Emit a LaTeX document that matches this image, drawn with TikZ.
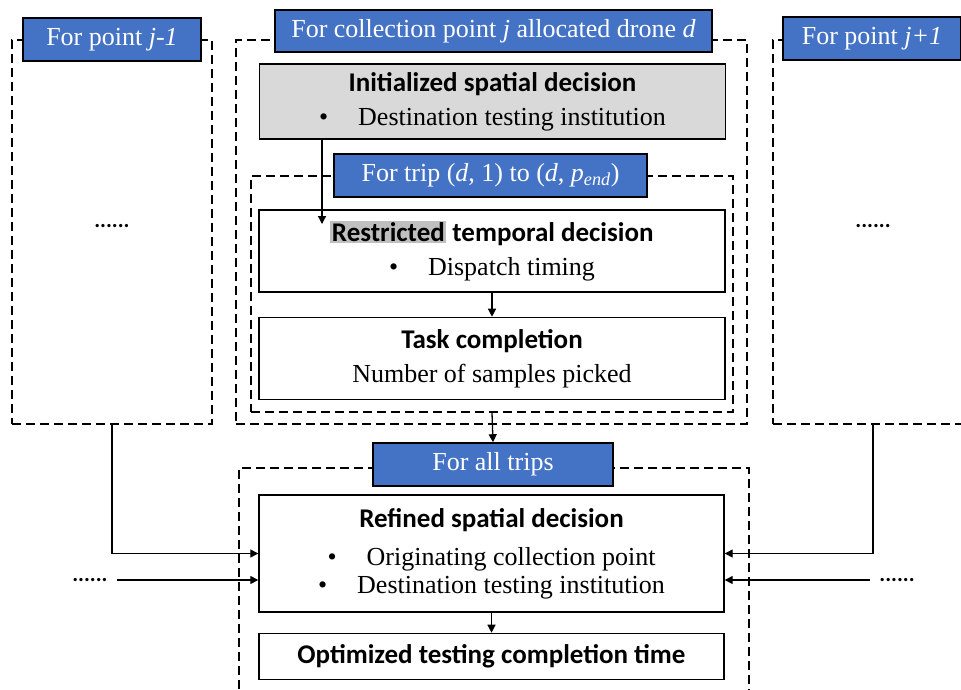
\documentclass[tikz,border=0pt]{standalone}
\usepackage{fontspec}
\setmainfont{Liberation Serif}
\newfontfamily\carlito{Carlito}
\usepackage{tikz}
\usetikzlibrary{arrows.meta,positioning}
\definecolor{titleblue}{HTML}{4472C4}
\definecolor{initgray}{HTML}{D9D9D9}
\definecolor{markgray}{HTML}{BFBFBF}
\newcommand{\hd}{\carlito\bfseries\fontsize{27}{32}\selectfont}

\begin{document}
\begin{tikzpicture}[
  x=1pt, y=-1pt,
  box/.style={draw, line width=1.4pt, minimum width=466pt, align=center, inner sep=0pt,
    font=\fontsize{26}{34}\selectfont},
  title/.style={draw, fill=titleblue, text=white, line width=1.6pt, minimum height=43pt,
    inner sep=0pt, font=\fontsize{26}{28}\selectfont},
  frame/.style={draw, dash pattern=on 9pt off 5pt, line width=1.5pt, inner sep=0pt},
  dots/.style={font=\carlito\bfseries\fontsize{22}{24}\selectfont, inner sep=1pt},
  arrow/.style={-{Triangle[length=8pt,width=8pt]}, line width=1.3pt},
]
  \useasboundingbox (0,0) rectangle (961,689);
  \clip (0,0) rectangle (961,689);

  % dashed frames
  \node[frame, minimum width=200pt, minimum height=384pt] (leftframe) at (112,232) {};
  \node[frame, minimum width=511pt, minimum height=384pt] (midframe) at (491.5,232) {};
  \node[frame, minimum width=200pt, minimum height=384pt] (rightframe) at (873,232) {};
  \node[frame, minimum width=482pt, minimum height=236pt] (tripframe) at (492,294) {};
  \node[frame, minimum width=510pt, minimum height=252pt] (allframe) at (494,594) {};

  % titles
  \node[title, minimum width=178pt] (lefttitle) at (112,39.5) {For point \textit{j-1}};
  \node[title, minimum width=437pt, minimum height=42pt] (midtitle) at (493.5,31) {For collection point \textit{j} allocated drone \textit{d}};
  \node[title, minimum width=178pt] (righttitle) at (872,38.5) {For point \textit{j+1}};
  \node[title, minimum width=313pt] (triptitle) at (490.5,175.5) {For trip (\textit{d}, 1) to (\textit{d}, \textit{p}\textsubscript{\textit{end}})};
  \node[title, minimum width=240pt] (alltitle) at (493,464.5) {For all trips};

  % decision boxes
  \node[box, fill=initgray, minimum height=75pt] (init) at (492.5,101.5)
    {{\hd Initialized spatial decision}\\ \textbullet\hspace{30pt}Destination testing institution};
  \node[box, minimum height=82pt] (restr) at (492,251)
    {{\hd{\setlength{\fboxsep}{1.5pt}\colorbox{markgray}{Restricted}} temporal decision}\\ \textbullet\hspace{30pt}Dispatch timing};
  \node[box, minimum height=82pt, below=24pt of restr] (task)
    {{\hd Task completion}\\ Number of samples picked};
  \node[box, minimum width=465pt, minimum height=117pt] (refined) at (491.5,553.5)
    {{\hd Refined spatial decision}\\[4pt] \textbullet\hspace{30pt}Originating collection point\\[-6pt] \textbullet\hspace{30pt}Destination testing institution};
  \node[box, minimum width=465pt, minimum height=46pt, below=20pt of refined] (optim)
    {\hd Optimized testing completion time};

  % dots
  \node[dots] (dotsa) at (112,226) {......};
  \node[dots] (dotsb) at (873,226) {......};
  \node[dots] (dotsc) at (90,580) {......};
  \node[dots] (dotsd) at (897,580) {......};

  \coordinate (mark) at (322,224);

  % connectors
  \draw[arrow] (init.south -| mark) -- (mark);
  \draw[arrow] (restr) -- (task);
  \draw[arrow] (tripframe.south) -- (alltitle.north);
  \draw[arrow] (leftframe.south) |- (refined.west);
  \draw[arrow] (rightframe.south) |- (refined.east);
  \draw[arrow, shorten <=8pt] (dotsc.east) -- (dotsc -| refined.west);
  \draw[arrow, shorten <=8pt] (dotsd.west) -- (dotsd -| refined.east);
  \draw[arrow] (refined) -- (optim);
\end{tikzpicture}
\end{document}
